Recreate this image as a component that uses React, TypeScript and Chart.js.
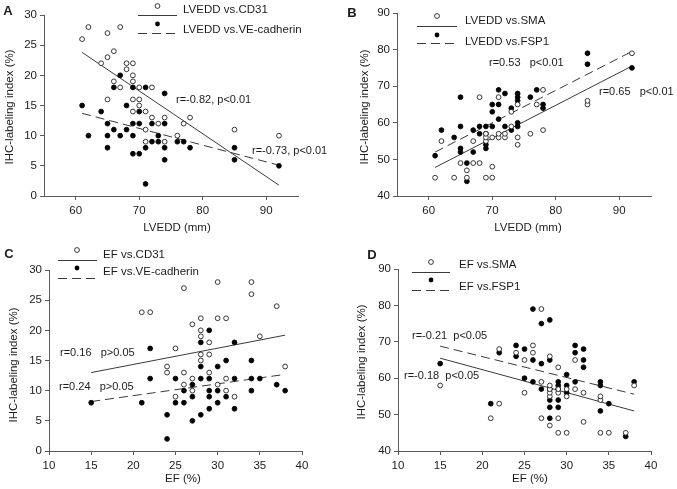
import React, { useEffect, useRef } from 'react';
import { Chart, registerables } from 'chart.js';

Chart.register(...registerables);

const W = 677;
const H = 489;
const FONT = "'Liberation Sans', Arial, Helvetica, sans-serif";
const TEXT = '#1c1c1c';
const AXIS = '#5a5a5a';
const LINE = '#3a3a3a';
const Y_TITLE = 'IHC-labeling index (%)';

type Pt = [number, number];

// ---------- Panel A : LVEDD vs CD31 / VE-cadherin ----------
const lveddTicks = [60, 70, 80, 90];
const efTicks = [10, 15, 20, 25, 30, 35, 40];

const aCd31: Pt[] = [
  [61, 26], [62, 28], [67, 28], [65, 27], [66, 24], [65, 23], [64, 22], [68, 22], [69, 22], [68, 21],
  [69, 20], [66, 19], [69, 19], [67, 18], [70, 18], [72, 18], [65, 16], [69, 16], [70, 16], [70, 15],
  [69, 14], [71, 14], [72, 13], [74, 13], [78, 13], [73, 12], [77, 12], [71, 11], [85, 11], [76, 10],
  [92, 10], [71, 9], [74, 9],
];
const aVeCad: Pt[] = [
  [61, 15], [62, 10], [64, 14], [65, 12], [65, 10], [65, 8], [66, 18], [66, 11], [67, 20], [67, 10],
  [68, 15], [68, 11], [69, 18], [69, 12], [69, 10], [69, 7], [70, 14], [70, 12], [70, 7], [71, 18],
  [71, 8], [71, 2], [72, 12], [72, 9], [73, 10], [73, 9], [74, 17], [74, 12], [74, 8], [74, 6],
  [76, 9], [77, 9], [78, 8], [85, 8], [85, 6], [92, 5],
];
const aCd31Fit: Pt[] = [[61, 23.8], [92, 1.8]];
const aVeCadFit: Pt[] = [[61, 13.7], [92, 5.1]];

// ---------- Panel B : LVEDD vs SMA / FSP1 ----------
const bSma: Pt[] = [
  [61, 45], [62, 55], [64, 45], [65, 49], [66, 45], [66, 47], [67, 49], [67, 55], [68, 49], [68, 67],
  [69, 45], [69, 55], [69, 56], [69, 57], [70, 45], [70, 48], [70, 56], [71, 56], [71, 57], [71, 67],
  [72, 56], [72, 57], [73, 59], [73, 63], [74, 54], [74, 56], [74, 65], [76, 57], [77, 65], [78, 58],
  [78, 69], [85, 65], [85, 66], [92, 79],
];
const bFsp1: Pt[] = [
  [61, 51], [62, 58], [64, 56], [65, 52], [65, 53], [65, 59], [65, 67], [66, 44], [66, 49], [67, 52],
  [67, 58], [68, 57], [68, 59], [69, 53], [69, 54], [69, 57], [69, 59], [70, 59], [70, 63], [70, 65],
  [71, 61], [71, 65], [71, 69], [72, 59], [72, 68], [73, 58], [73, 64], [74, 59], [74, 60], [74, 66],
  [74, 67], [74, 68], [76, 67], [77, 69], [78, 64], [78, 65], [85, 76], [85, 79], [92, 75],
];
const bSmaFit: Pt[] = [[61, 47.8], [92, 75.5]];
const bFsp1Fit: Pt[] = [[61, 52], [92, 79.5]];

// ---------- Panel C : EF vs CD31 / VE-cadherin ----------
const cCd31: Pt[] = [
  [21, 23], [22, 23], [24, 14], [24, 13], [25, 17], [25, 9], [26, 27], [26, 13], [26, 11], [27, 21],
  [27, 12], [27, 10], [28, 22], [28, 20], [28, 19], [28, 16], [28, 15], [29, 18], [29, 16], [29, 13],
  [30, 28], [30, 22], [30, 11], [31, 22], [31, 12], [31, 10], [32, 9], [34, 28], [34, 26], [35, 19],
  [37, 24], [38, 14],
];
const cVeCad: Pt[] = [
  [15, 8], [21, 8], [22, 17], [22, 12], [24, 6], [24, 2], [25, 12], [25, 8], [26, 10], [26, 8],
  [27, 11], [27, 9], [27, 5], [28, 18], [28, 14], [28, 12], [28, 6], [29, 20], [29, 12], [29, 10],
  [29, 9], [29, 7], [30, 14], [30, 10], [30, 8], [31, 15], [31, 9], [32, 18], [32, 12], [32, 7],
  [34, 15], [34, 12], [34, 10], [35, 12], [37, 11], [38, 10],
];
const cCd31Fit: Pt[] = [[15, 13], [38, 19.2]];
const cVeCadFit: Pt[] = [[15, 8.2], [38, 12.7]];

// ---------- Panel D : EF vs SMA / FSP1 ----------
const dSma: Pt[] = [
  [15, 58], [21, 49], [22, 53], [22, 68], [24, 67], [25, 56], [25, 65], [26, 67], [26, 69], [27, 49],
  [27, 59], [27, 79], [28, 47], [28, 55], [28, 56], [28, 57], [28, 58], [28, 66], [29, 45], [29, 49],
  [29, 56], [29, 57], [29, 63], [30, 45], [30, 55], [30, 57], [31, 57], [31, 65], [32, 48], [32, 56],
  [34, 45], [34, 54], [34, 55], [35, 45], [37, 45], [38, 58],
];
const dFsp1: Pt[] = [
  [15, 64], [21, 53], [22, 67], [24, 69], [24, 66], [25, 68], [25, 60], [26, 79], [26, 65], [26, 59],
  [27, 75], [27, 64], [27, 57], [28, 76], [28, 65], [28, 57], [28, 54], [28, 52], [28, 49], [29, 59],
  [29, 58], [29, 57], [29, 54], [29, 52], [30, 61], [30, 58], [30, 56], [31, 69], [31, 67], [31, 59],
  [32, 68], [32, 65], [32, 63], [34, 59], [34, 58], [34, 51], [35, 53], [37, 44], [38, 59],
];
const dSmaFit: Pt[] = [[15, 65.5], [38, 51]];
const dFsp1Fit: Pt[] = [[15, 68.8], [38, 55.6]];

type PanelCfg = {
  letter: string;
  letterAt: Pt;
  area: { l: number; t: number; r: number; b: number };
  xMin: number; xMax: number; xTicks: number[];
  yMin: number; yMax: number; yStep: number;
  open: Pt[]; filled: Pt[]; openFit: Pt[]; filledFit: Pt[];
  openName: string; filledName: string;
  xTitle: string; xTitleAt: Pt; yTitleAt: Pt;
  legend: { markerX: number; lineX0: number; lineX1: number; textX: number;
    open: { marker: number; line: number; text: number };
    filled: { marker: number; line: number; text: number } };
  notes: { text: string; x: number; y: number }[];
};

const panels: PanelCfg[] = [
  {
    letter: 'A', letterAt: [8, 11],
    area: { l: 44, t: 15, r: 298, b: 196 },
    xMin: 55, xMax: 95, xTicks: lveddTicks, yMin: 0, yMax: 30, yStep: 5,
    open: aCd31, filled: aVeCad, openFit: aCd31Fit, filledFit: aVeCadFit,
    openName: 'LVEDD vs.CD31', filledName: 'LVEDD vs.VE-cadherin',
    xTitle: 'LVEDD (mm)', xTitleAt: [177, 228], yTitleAt: [10, 107],
    legend: { markerX: 157.5, lineX0: 138, lineX1: 177, textX: 183,
      open: { marker: 6, line: 15, text: 9.5 }, filled: { marker: 24, line: 33, text: 29.5 } },
    notes: [
      { text: 'r=-0.82, p<0.01', x: 176, y: 100 },
      { text: 'r=-0.73, p<0.01', x: 252, y: 151 },
    ],
  },
  {
    letter: 'B', letterAt: [352, 13],
    area: { l: 397, t: 13, r: 651, b: 196 },
    xMin: 55, xMax: 95, xTicks: lveddTicks, yMin: 40, yMax: 90, yStep: 10,
    open: bSma, filled: bFsp1, openFit: bSmaFit, filledFit: bFsp1Fit,
    openName: 'LVEDD vs.SMA', filledName: 'LVEDD vs.FSP1',
    xTitle: 'LVEDD (mm)', xTitleAt: [528, 228], yTitleAt: [365, 107],
    legend: { markerX: 437, lineX0: 417, lineX1: 457, textX: 465,
      open: { marker: 16, line: 26, text: 21 }, filled: { marker: 35, line: 43, text: 42 } },
    notes: [
      { text: 'r=0.53   p<0.01', x: 489, y: 63 },
      { text: 'r=0.65   p<0.01', x: 599, y: 92 },
    ],
  },
  {
    letter: 'C', letterAt: [9, 254],
    area: { l: 49, t: 270, r: 302, b: 451 },
    xMin: 10, xMax: 40, xTicks: efTicks, yMin: 0, yMax: 30, yStep: 5,
    open: cCd31, filled: cVeCad, openFit: cCd31Fit, filledFit: cVeCadFit,
    openName: 'EF vs.CD31', filledName: 'EF vs.VE-cadherin',
    xTitle: 'EF (%)', xTitleAt: [183, 479], yTitleAt: [14, 365],
    legend: { markerX: 77, lineX0: 58, lineX1: 97, textX: 103,
      open: { marker: 250, line: 260, text: 255 }, filled: { marker: 268, line: 278, text: 272 } },
    notes: [
      { text: 'r=0.16   p>0.05', x: 60, y: 353 },
      { text: 'r=0.24   p>0.05', x: 59, y: 387 },
    ],
  },
  {
    letter: 'D', letterAt: [372, 255],
    area: { l: 398, t: 269, r: 651, b: 451 },
    xMin: 10, xMax: 40, xTicks: efTicks, yMin: 40, yMax: 90, yStep: 10,
    open: dSma, filled: dFsp1, openFit: dSmaFit, filledFit: dFsp1Fit,
    openName: 'EF vs.SMA', filledName: 'EF vs.FSP1',
    xTitle: 'EF (%)', xTitleAt: [530, 479], yTitleAt: [362, 362],
    legend: { markerX: 431, lineX0: 412, lineX1: 450, textX: 459,
      open: { marker: 262, line: 272, text: 265 }, filled: { marker: 280, line: 290, text: 287 } },
    notes: [
      { text: 'r=-0.21  p<0.05', x: 412, y: 336 },
      { text: 'r=-0.18  p<0.05', x: 404, y: 376 },
    ],
  },
];

const R = 2.4;
const DASH = [9, 5];

function toXY(pts: Pt[]) {
  return pts.map(([x, y]) => ({ x, y }));
}

function range(min: number, max: number, step: number) {
  const out: number[] = [];
  for (let v = min; v <= max + 1e-9; v += step) out.push(v);
  return out;
}

function decorPlugin(p: PanelCfg) {
  return {
    id: 'decor' + p.letter,
    afterDraw(chart: any) {
      const ctx: CanvasRenderingContext2D = chart.ctx;
      ctx.save();
      ctx.fillStyle = TEXT;
      ctx.textBaseline = 'middle';
      // panel letter
      ctx.font = `bold 13px ${FONT}`;
      ctx.textAlign = 'center';
      ctx.fillText(p.letter, p.letterAt[0], p.letterAt[1]);
      // axis titles
      ctx.font = `11.5px ${FONT}`;
      ctx.fillText(p.xTitle, p.xTitleAt[0], p.xTitleAt[1]);
      ctx.save();
      ctx.translate(p.yTitleAt[0], p.yTitleAt[1]);
      ctx.rotate(-Math.PI / 2);
      ctx.fillText(Y_TITLE, 0, 0);
      ctx.restore();
      // legend
      const lg = p.legend;
      ctx.lineWidth = 0.9;
      ctx.strokeStyle = '#222';
      ctx.beginPath();
      ctx.arc(lg.markerX, lg.open.marker, R, 0, Math.PI * 2);
      ctx.fillStyle = '#fff';
      ctx.fill();
      ctx.stroke();
      ctx.beginPath();
      ctx.arc(lg.markerX, lg.filled.marker, R, 0, Math.PI * 2);
      ctx.fillStyle = '#000';
      ctx.fill();
      ctx.strokeStyle = LINE;
      ctx.lineWidth = 1;
      ctx.beginPath();
      ctx.moveTo(lg.lineX0, lg.open.line + 0.5);
      ctx.lineTo(lg.lineX1, lg.open.line + 0.5);
      ctx.stroke();
      ctx.setLineDash(DASH);
      ctx.beginPath();
      ctx.moveTo(lg.lineX0, lg.filled.line + 0.5);
      ctx.lineTo(lg.lineX1, lg.filled.line + 0.5);
      ctx.stroke();
      ctx.setLineDash([]);
      ctx.fillStyle = TEXT;
      ctx.textAlign = 'left';
      ctx.font = `11.5px ${FONT}`;
      ctx.fillText(p.openName, lg.textX, lg.open.text);
      ctx.fillText(p.filledName, lg.textX, lg.filled.text);
      // correlation notes
      ctx.font = `11px ${FONT}`;
      for (const n of p.notes) ctx.fillText(n.text, n.x, n.y);
      ctx.restore();
    },
  };
}

function buildConfig(p: PanelCfg): any {
  const tickFont = { family: FONT, size: 11.5 };
  const common = {
    grid: { display: true, drawOnChartArea: false, drawTicks: true, tickLength: 4, color: AXIS, lineWidth: 1 },
    border: { display: true, color: AXIS, width: 1 },
  };
  return {
    type: 'scatter',
    data: {
      datasets: [
        {
          label: p.openName,
          data: toXY(p.open),
          pointRadius: R,
          pointBorderWidth: 0.9,
          pointBackgroundColor: '#ffffff',
          pointBorderColor: '#222222',
          showLine: false,
        },
        {
          label: p.filledName,
          data: toXY(p.filled),
          pointRadius: R,
          pointBorderWidth: 0.9,
          pointBackgroundColor: '#000000',
          pointBorderColor: '#000000',
          showLine: false,
        },
        {
          label: p.openName + ' fit',
          data: toXY(p.openFit),
          showLine: true,
          pointRadius: 0,
          borderColor: LINE,
          borderWidth: 1,
          fill: false,
        },
        {
          label: p.filledName + ' fit',
          data: toXY(p.filledFit),
          showLine: true,
          pointRadius: 0,
          borderColor: LINE,
          borderWidth: 1,
          borderDash: DASH,
          fill: false,
        },
      ],
    },
    options: {
      responsive: false,
      maintainAspectRatio: false,
      animation: false,
      devicePixelRatio: 1,
      events: [],
      layout: {
        autoPadding: false,
        padding: { left: 0, top: p.area.t, right: W - p.area.r, bottom: 0 },
      },
      plugins: { legend: { display: false }, tooltip: { enabled: false }, title: { display: false } },
      scales: {
        x: {
          type: 'linear',
          min: p.xMin,
          max: p.xMax,
          ...common,
          ticks: { font: tickFont, color: TEXT, padding: 4, maxRotation: 0 },
          afterBuildTicks: (s: any) => { s.ticks = p.xTicks.map((v) => ({ value: v })); },
          afterFit: (s: any) => {
            s.height = H - p.area.b;
            s.paddingLeft = 0; s.paddingRight = 0; s.paddingTop = 0; s.paddingBottom = 0;
          },
        },
        y: {
          type: 'linear',
          min: p.yMin,
          max: p.yMax,
          ...common,
          ticks: { font: tickFont, color: TEXT, padding: 3 },
          afterBuildTicks: (s: any) => { s.ticks = range(p.yMin, p.yMax, p.yStep).map((v) => ({ value: v })); },
          afterFit: (s: any) => {
            s.width = p.area.l;
            s.paddingLeft = 0; s.paddingRight = 0; s.paddingTop = 0; s.paddingBottom = 0;
          },
        },
      },
    },
    plugins: [decorPlugin(p)],
  };
}

function PanelChart({ p }: { p: PanelCfg }) {
  const ref = useRef<HTMLCanvasElement>(null);
  useEffect(() => {
    if (!ref.current) return;
    const chart = new Chart(ref.current, buildConfig(p));
    return () => chart.destroy();
  }, [p]);
  return (
    <canvas
      ref={ref}
      width={W}
      height={H}
      style={{ position: 'absolute', left: 0, top: 0, width: W, height: H }}
    />
  );
}

export default function App() {
  return (
    <div style={{ position: 'absolute', left: 0, top: 0, width: W, height: H, background: '#ffffff', overflow: 'hidden' }}>
      {panels.map((p) => (
        <PanelChart key={p.letter} p={p} />
      ))}
    </div>
  );
}
